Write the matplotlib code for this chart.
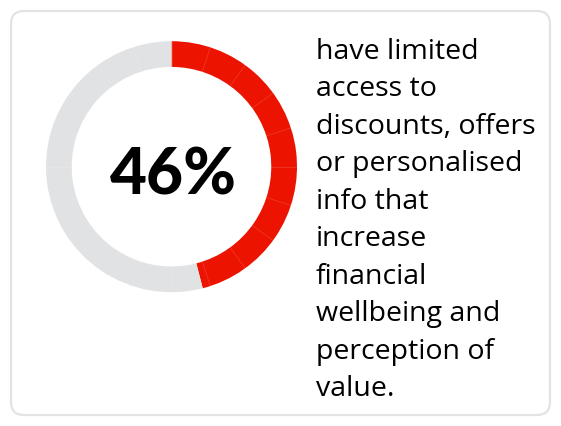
import matplotlib
matplotlib.use("Agg")
import numpy as np
import matplotlib.pyplot as plt
from matplotlib.patches import FancyBboxPatch

# Share of respondents reporting limited access
value = 46
total = 100
step = 5  # ring is divided into 5% segments
headline = f"{value}%"
caption_lines = [
    "have limited",
    "access to",
    "discounts, offers",
    "or personalised",
    "info that",
    "increase",
    "financial",
    "wellbeing and",
    "perception of",
    "value.",
]

RED = "#EC1300"
GREY = "#E1E2E4"

W, H, DPI = 561, 426, 100
fig = plt.figure(figsize=(W / DPI, H / DPI), dpi=DPI)
fig.patch.set_facecolor("white")

# Card background in pixel coordinates
bg = fig.add_axes([0, 0, 1, 1])
bg.set_xlim(0, W)
bg.set_ylim(H, 0)
bg.axis("off")
card = FancyBboxPatch((11, 11), W - 22, H - 22,
                      boxstyle="round,pad=0,rounding_size=13",
                      facecolor="white", edgecolor="#E3E3E3", linewidth=1.6)
bg.add_patch(card)

# Donut ring
cx, cy, r = 171.5, 166.7, 125.5
ring_w = 0.205
pie_ax = fig.add_axes([(cx - r) / W, (H - cy - r) / H, 2 * r / W, 2 * r / H])
pie_ax.pie([value, total - value], colors=[RED, GREY], startangle=90,
           counterclock=False, radius=1.0,
           wedgeprops=dict(width=ring_w, linewidth=0))

# Faint dividers between the 5% segments
for k in range(0, total, step):
    ang = np.deg2rad(90 - 360 * k / total)
    pie_ax.plot([(1 - ring_w) * np.cos(ang), np.cos(ang)],
                [(1 - ring_w) * np.sin(ang), np.sin(ang)],
                color="white", alpha=0.18, linewidth=0.5)
pie_ax.set_xlim(-1, 1)
pie_ax.set_ylim(-1, 1)
pie_ax.set_aspect("auto")
pie_ax.axis("off")

bg.text(173.5, 176, headline, ha="center", va="center", fontsize=46,
        fontfamily="Lato", fontweight="black", color="black")

for i, line in enumerate(caption_lines):
    bg.text(316, 59 + i * 37.5, line, ha="left", va="baseline",
            fontsize=20.5, fontfamily="Open Sans", color="black")

fig.savefig("out.png", dpi=DPI)
